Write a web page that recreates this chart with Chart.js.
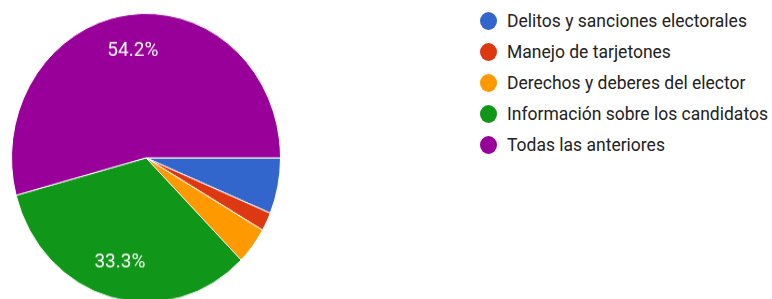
<!doctype html>
<html lang="es">
<head>
<meta charset="utf-8">
<title>Temas</title>
<script src="https://cdn.jsdelivr.net/npm/chart.js@4.4.1/dist/chart.umd.min.js"></script>
<style>
  html, body { margin: 0; padding: 0; background: #fff; overflow: hidden; }
  body { width: 772px; height: 299px; position: relative; font-family: Roboto, Arial, sans-serif; }
  /* the reference picture is a little taller than wide, so stretch the pie */
  #wrap { position: absolute; left: 0; top: 0; width: 292px; height: 284px; transform: scaleY(1.074); transform-origin: 0 0; }
  #legend { position: absolute; left: 480px; top: 6px; margin: 0; padding: 0; list-style: none; }
  #legend li { height: 30.8px; display: flex; align-items: center; font-size: 17.5px; color: #222; white-space: nowrap; }
  #legend .dot { width: 17px; height: 18px; border-radius: 50%; margin-right: 10px; flex: none; }
</style>
</head>
<body>
  <div id="wrap"><canvas id="pie" width="292" height="284"></canvas></div>
  <ul id="legend"></ul>

<script>
  var categories = [
    "Delitos y sanciones electorales",
    "Manejo de tarjetones",
    "Derechos y deberes del elector",
    "Información sobre los candidatos",
    "Todas las anteriores"
  ];
  var counts = [3, 1, 2, 16, 26];
  var colors = ["#3366cc", "#dc3912", "#ff9900", "#109618", "#990099"];

  // percent labels on the big slices only
  var sliceLabels = {
    id: 'sliceLabels',
    afterDatasetsDraw: function(chart) {
      var ctx = chart.ctx;
      var meta = chart.getDatasetMeta(0);
      var total = counts.reduce(function(a, b) { return a + b; }, 0);
      ctx.save();
      ctx.fillStyle = '#fff';
      ctx.font = '19px Roboto, Arial, sans-serif';
      ctx.textAlign = 'center';
      ctx.textBaseline = 'middle';
      meta.data.forEach(function(arc, i) {
        var pct = counts[i] / total * 100;
        if (pct < 10) return;
        var p = arc.getProps(['x', 'y', 'startAngle', 'endAngle', 'outerRadius'], true);
        var mid = (p.startAngle + p.endAngle) / 2;
        var r = p.outerRadius * 0.75;
        ctx.fillText(pct.toFixed(1) + '%', p.x + Math.cos(mid) * r, p.y + Math.sin(mid) * r);
      });
      ctx.restore();
    }
  };

  var ctx = document.getElementById('pie').getContext('2d');
  var pieChart = new Chart(ctx, {
    type: 'pie',
    data: {
      labels: categories,
      datasets: [{
        data: counts,
        backgroundColor: colors,
        borderColor: '#fff',
        borderWidth: 1
      }]
    },
    options: {
      responsive: false,
      animation: false,
      rotation: 90,
      layout: { padding: { left: 11, right: 11, top: 12, bottom: 2 } },
      plugins: {
        legend: { display: false },
        tooltip: { enabled: false }
      }
    },
    plugins: [sliceLabels]
  });

  // html legend from the same arrays
  var ul = document.getElementById('legend');
  categories.forEach(function(name, i) {
    var li = document.createElement('li');
    var dot = document.createElement('span');
    dot.className = 'dot';
    dot.style.background = colors[i];
    li.appendChild(dot);
    li.appendChild(document.createTextNode(name));
    ul.appendChild(li);
  });
</script>
</body>
</html>
